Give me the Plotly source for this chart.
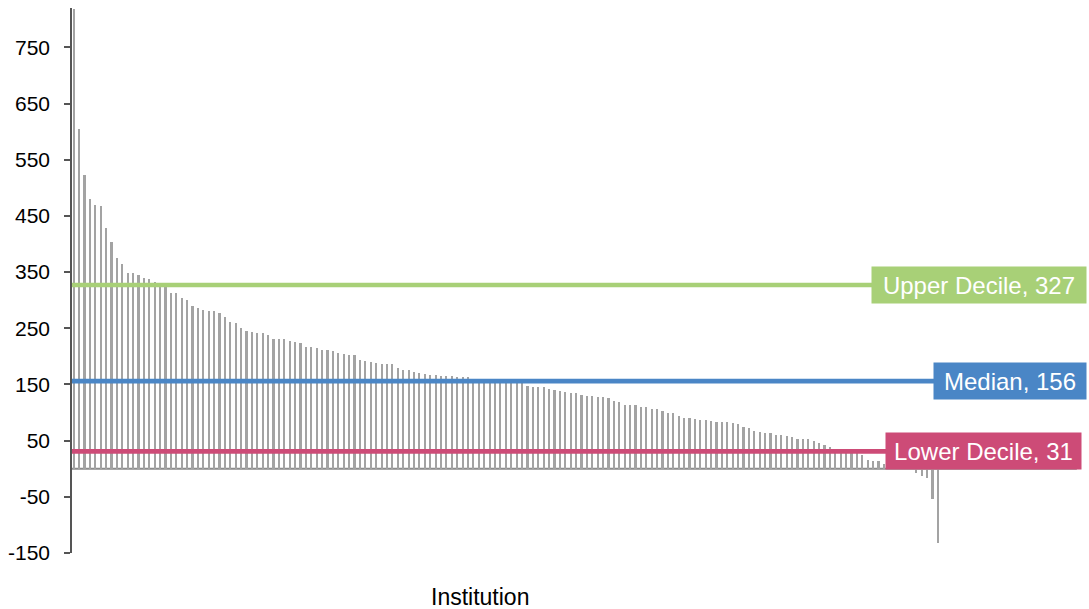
import plotly.graph_objects as go

# Values per institution (sorted descending)
values = [
    818, 604, 522, 480, 470, 467, 429, 404, 375, 365,
    349, 349, 344, 340, 338, 333, 329, 326, 313, 312,
    304, 301, 290, 286, 282, 281, 280, 277, 270, 262,
    260, 251, 245, 244, 242, 241, 238, 230, 230, 230,
    228, 226, 224, 217, 216, 215, 212, 211, 210, 206,
    204, 203, 203, 194, 191, 190, 188, 187, 187, 187,
    180, 176, 175, 173, 171, 168, 167, 167, 165, 165,
    165, 164, 163, 163, 160, 159, 158, 158, 157, 156,
    156, 155, 154, 153, 148, 146, 146, 145, 142, 140,
    139, 136, 134, 134, 132, 130, 130, 128, 127, 125,
    120, 118, 114, 113, 113, 109, 109, 107, 107, 102,
    100, 100, 94, 91, 90, 88, 86, 86, 85, 84,
    83, 83, 81, 80, 74, 73, 67, 66, 64, 63,
    60, 60, 58, 56, 53, 53, 53, 49, 45, 42,
    39, 34, 32, 30, 29, 28, 25, 15, 13, 13,
    9, 7, 5, 3, 1, 0.5, -7, -13, -16, -53,
    -133,
]
institutions = list(range(1, len(values) + 1))

stat_names = ["Upper Decile", "Median", "Lower Decile"]
stat_values = [327, 156, 31]
stat_colors = ["#A8D077", "#4A86C6", "#CD4B77"]
stat_label_widths = [210, 148, 191]
stat_label_right = [1.0, 1.0, 0.99507]

y_tickvals = [-150, -50, 50, 150, 250, 350, 450, 550, 650, 750]
y_ticktext = ["-150", "-50", "50", "150", "250", "350", "450", "550", "650", "750"]

fig = go.Figure()
fig.add_trace(go.Bar(
    x=institutions, y=values,
    marker=dict(color="#A3A3A3", line=dict(width=0)),
    width=0.4,
    showlegend=False,
    hoverinfo="x+y",
))

shapes = []
annotations = []
for name, val, col, w, xr in zip(stat_names, stat_values, stat_colors,
                                 stat_label_widths, stat_label_right):
    shapes.append(dict(type="line", xref="paper", x0=0, x1=xr - 0.01, yref="y",
                       y0=val, y1=val, line=dict(color=col, width=4.7),
                       layer="above"))
    annotations.append(dict(
        xref="paper", x=xr, xanchor="right", yref="y", y=val,
        yanchor="middle", text=f"{name}, {val}", showarrow=False,
        bgcolor=col, borderpad=2, width=w, height=32, align="center",
        font=dict(family="Liberation Sans, Arial", size=24, color="white"),
    ))

# zero baseline of the category axis
shapes.append(dict(type="line", xref="paper", x0=0, x1=0.99, yref="y",
                   y0=0, y1=0, line=dict(color="#8C8C8C", width=2),
                   layer="below"))

annotations.append(dict(
    xref="paper", x=(480 - 72) / 1015, xanchor="center",
    yref="paper", y=(553 - 597) / 545, yanchor="middle",
    text="Institution", showarrow=False,
    font=dict(family="Liberation Sans, Arial", size=23, color="black"),
))

fig.update_layout(
    width=1089, height=609,
    margin=dict(l=72, r=2, t=8, b=56),
    paper_bgcolor="white", plot_bgcolor="white",
    shapes=shapes, annotations=annotations,
    bargap=0,
    xaxis=dict(
        range=[0.685, 188.6], showticklabels=False, showgrid=False,
        zeroline=False, showline=False, ticks="",
    ),
    yaxis=dict(
        range=[-150, 820], tickvals=y_tickvals, ticktext=y_ticktext,
        showgrid=False, zeroline=False, showline=True,
        linecolor="#555555", linewidth=1.5,
        ticks="outside", ticklen=6, tickcolor="#555555", tickwidth=1.5,
        ticklabelstandoff=10,
        tickfont=dict(family="Liberation Sans, Arial", size=21, color="black"),
    ),
)

fig.write_html(
    "out.html",
    config={"displayModeBar": False},
    post_script="document.body.style.margin='0';document.body.style.padding='0';",
)
